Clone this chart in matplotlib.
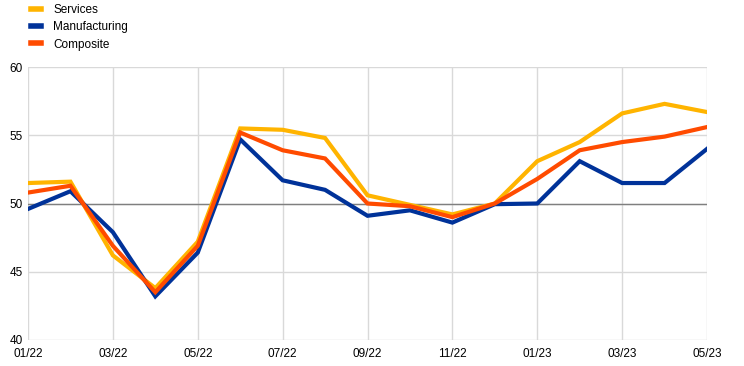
import numpy as np
import matplotlib.pyplot as plt

plt.rcParams['font.family'] = ['Liberation Sans', 'DejaVu Sans']

months = ['01/22', '02/22', '03/22', '04/22', '05/22', '06/22', '07/22', '08/22', '09/22',
          '10/22', '11/22', '12/22', '01/23', '02/23', '03/23', '04/23', '05/23']
services = [51.5, 51.6, 46.2, 43.8, 47.2, 55.5, 55.4, 54.8, 50.6, 49.9, 49.2, 50.0, 53.1,
            54.5, 56.6, 57.3, 56.7]
manufacturing = [49.6, 50.9, 47.9, 43.2, 46.4, 54.7, 51.7, 51.0, 49.1, 49.5, 48.6, 49.95,
                 50.0, 53.1, 51.5, 51.5, 54.0]
composite = [50.8, 51.3, 46.9, 43.5, 46.9, 55.2, 53.9, 53.3, 50.0, 49.8, 49.0, 50.0, 51.8,
             53.9, 54.5, 54.9, 55.6]

c_serv = '#ffb400'
c_manu = '#003299'
c_comp = '#ff4b00'

fig = plt.figure(figsize=(7.44, 3.66), dpi=100)
ax = fig.add_axes([28 / 744, 1 - 340 / 366, (707 - 28) / 744, (340 - 67) / 366])

x = np.arange(len(months))
ax.axhline(50, color='#7f7f7f', linewidth=1.0, zorder=1)
ax.plot(x, services, color=c_serv, linewidth=3, label='Services', zorder=3, solid_joinstyle='miter')
ax.plot(x, manufacturing, color=c_manu, linewidth=3, label='Manufacturing', zorder=3, solid_joinstyle='miter')
ax.plot(x, composite, color=c_comp, linewidth=3, label='Composite', zorder=4, solid_joinstyle='miter')

ax.set_xlim(0, len(months) - 1)
ax.set_ylim(40, 60)
ax.set_yticks([40, 45, 50, 55, 60])
ax.set_xticks(x[::2])
ax.set_xticklabels(months[::2])
ax.grid(True, color='#d9d9d9', linewidth=1.0, zorder=0)
ax.set_axisbelow(True)
for s in ax.spines.values():
    s.set_visible(False)
ax.tick_params(length=0, labelsize=8.5, colors='black', pad=6)
ax.tick_params(axis='y', pad=4)

fig.legend(loc='upper left', bbox_to_anchor=(26 / 744, 1.002), frameon=False, fontsize=8.5,
           handlelength=0.9, handletextpad=1.0, labelspacing=0.45, borderaxespad=0)
for ln in fig.legends[0].get_lines():
    ln.set_linewidth(4)

fig.savefig('out.png', dpi=100)
